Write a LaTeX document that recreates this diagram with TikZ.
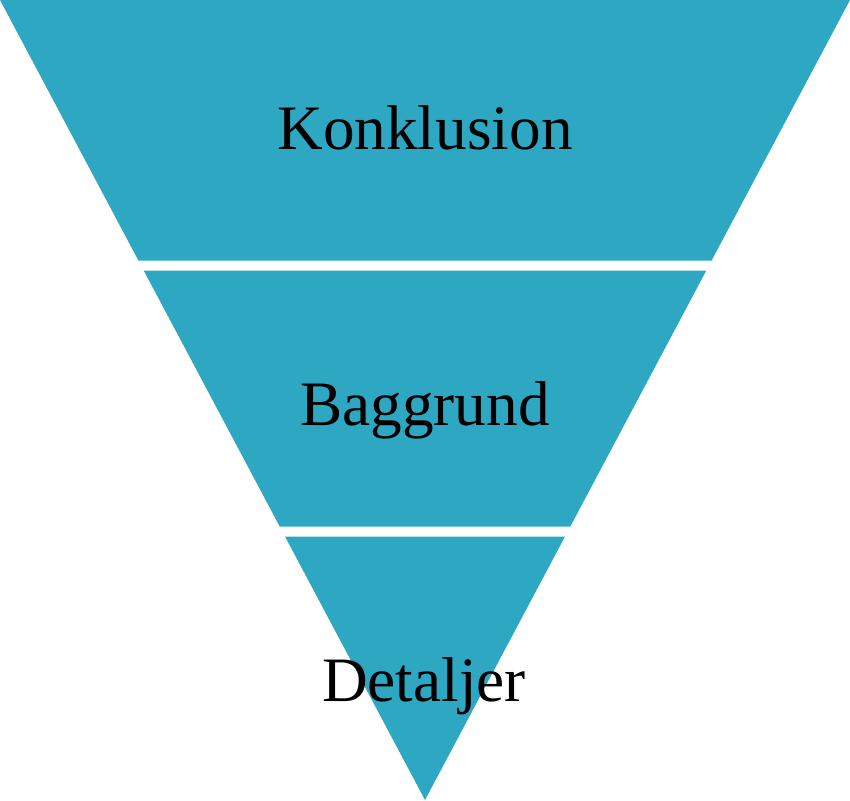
\documentclass[tikz,border=0pt]{standalone}
\usepackage{fontspec}
\setmainfont{Liberation Serif}
\usepackage{tikz}
\definecolor{ttaaqq}{rgb}{0.18,0.66,0.76}
\tikzset{band/.style={color=ttaaqq,fill=ttaaqq},
	lbl/.style={anchor=base,text=black,font=\fontsize{18}{20}\selectfont}}
\begin{document}
\begin{tikzpicture}[line cap=round,line join=round,x=1.0cm,y=1.0cm]
\useasboundingbox (0,0) rectangle (8.5,8.01);
\fill [band] (0,8.01) -- (8.5,8.01) -- (7.115,5.403) -- (1.385,5.403) -- cycle;
\fill [band] (1.438,5.303) -- (7.062,5.303) -- (5.702,2.743) -- (2.798,2.743) -- cycle;
\fill [band] (2.851,2.643) -- (5.649,2.643) -- (4.25,0.01) -- cycle;
\node [lbl] (konklusion) at (4.25,6.517) {Konklusion};
\node [lbl] (baggrund) at (4.25,3.753) {Baggrund};
\node [lbl] (detaljer) at (4.24,0.993) {Detaljer};
\end{tikzpicture}
\end{document}
